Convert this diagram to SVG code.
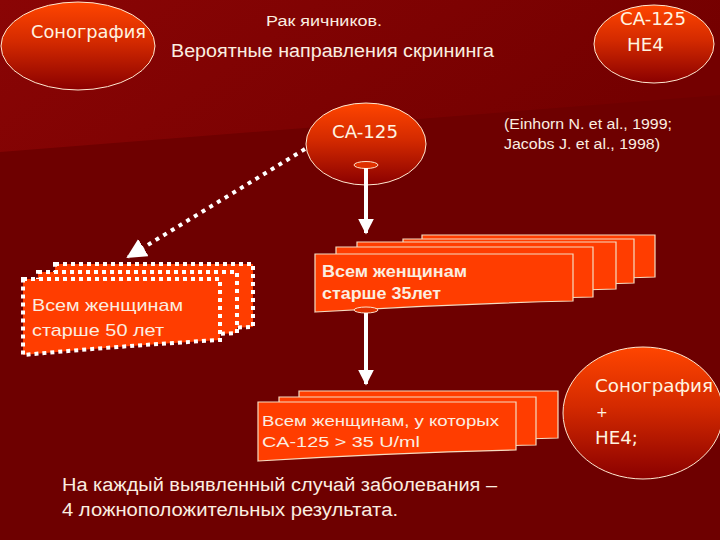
<svg xmlns="http://www.w3.org/2000/svg" width="720" height="540" viewBox="0 0 720 540">
<defs>
<linearGradient id="ell" x1="0" y1="0" x2="0" y2="1">
<stop offset="0" stop-color="#ff4500"/>
<stop offset="0.45" stop-color="#d42a00"/>
<stop offset="1" stop-color="#8a0000"/>
</linearGradient>
<linearGradient id="band" x1="0" y1="0" x2="1" y2="0.3">
<stop offset="0" stop-color="#8a0505"/>
<stop offset="1" stop-color="#740000"/>
</linearGradient>
<marker id="ah" viewBox="0 0 10 10" refX="9" refY="5" markerWidth="4" markerHeight="4" orient="auto" markerUnits="strokeWidth">
<path d="M0,0 L10,5 L0,10 z" fill="#ffffff"/>
</marker>
<marker id="ahd" viewBox="0 0 10 10" refX="9" refY="5" markerWidth="5" markerHeight="5" orient="auto" markerUnits="strokeWidth">
<path d="M0,0 L10,5 L0,10 z" fill="#ffffff"/>
</marker>
</defs>
<style>
.bg{fill:#6e0000}
.ellipse{fill:url(#ell);stroke:#ffe8d0;stroke-width:1}
.doc{fill:#ff3d00;stroke:#f5dcc0;stroke-width:1.2}
.docd{fill:#ff3d00;stroke:#ffffff;stroke-width:4;stroke-dasharray:4 4}
.tail{fill:#e03000;stroke:#ffe0c8;stroke-width:1}
.comic{font-family:"DejaVu Sans","Noto Sans",sans-serif;fill:#fff4e0}
.sans{font-family:"Liberation Sans",Arial,sans-serif;fill:#fbeee0}
.arrow{stroke:#ffffff;stroke-width:4;fill:none}
.dotted{stroke:#ffffff;stroke-width:4;stroke-dasharray:4 5;fill:none}
</style>
<rect class="bg" x="0" y="0" width="720" height="540"/>
<path d="M0,0 H720 V95 L0,152 Z" fill="url(#band)"/>

<g id="title">
<text class="sans" x="266" y="26" font-size="15.5" textLength="116" lengthAdjust="spacingAndGlyphs">Рак яичников.</text>
<text class="sans" x="171" y="57" font-size="18" textLength="323" lengthAdjust="spacingAndGlyphs">Вероятные направления скрининга</text>
</g>

<g id="sonography-top">
<ellipse class="ellipse" cx="78" cy="46" rx="77" ry="44"/>
<text class="comic" x="31" y="38" font-size="17" textLength="115" lengthAdjust="spacingAndGlyphs">Сонография</text>
</g>

<g id="ca125-he4">
<ellipse class="ellipse" cx="654" cy="44" rx="60" ry="39"/>
<text class="comic" x="620" y="25" font-size="18" textLength="66" lengthAdjust="spacingAndGlyphs">CA-125</text>
<text class="comic" x="627" y="51" font-size="18" textLength="37" lengthAdjust="spacingAndGlyphs">HE4</text>
</g>

<g id="ca125">
<ellipse class="ellipse" cx="366" cy="144" rx="60" ry="41"/>
<text class="comic" x="332" y="138" font-size="17" textLength="66" lengthAdjust="spacingAndGlyphs">CA-125</text>
</g>

<g id="citation">
<text class="sans" x="504" y="129" font-size="14" fill="#e8d8d0" textLength="168" lengthAdjust="spacingAndGlyphs">(Einhorn N. et al., 1999;</text>
<text class="sans" x="504" y="149" font-size="14" fill="#e8d8d0" textLength="156" lengthAdjust="spacingAndGlyphs">Jacobs J. et al., 1998)</text>
</g>

<g id="over50">
<path class="docd" d="M55,264 H253 V327 Q150,330 55,343 Z"/>
<path class="docd" d="M38,272 H237 V333 Q135,338 38,350 Z"/>
<path class="docd" d="M23,279 H220 V340 Q120,346 23,355 Z"/>
<text class="sans" x="32" y="311" font-size="17" textLength="151" lengthAdjust="spacingAndGlyphs">Всем женщинам</text>
<text class="sans" x="32" y="336" font-size="17" textLength="132" lengthAdjust="spacingAndGlyphs">старше 50 лет</text>
</g>

<g id="over35">
<path class="doc" d="M422,235 H655 V277 Q540,280 422,288 Z"/>
<path class="doc" d="M403,239 H634 V283 Q520,286 403,294 Z"/>
<path class="doc" d="M357,242 H616 V289 Q490,292 357,300 Z"/>
<path class="doc" d="M336,247 H593 V297 Q465,300 336,306 Z"/>
<path class="doc" d="M315,254 H573 V301 Q445,304 315,312 Z"/>
<text class="sans" x="322" y="277" font-size="16" font-weight="bold" textLength="145" lengthAdjust="spacingAndGlyphs">Всем женщинам</text>
<text class="sans" x="322" y="299" font-size="16" font-weight="bold" textLength="119" lengthAdjust="spacingAndGlyphs">старше 35лет</text>
</g>

<g id="ca125-high">
<path class="doc" d="M299,391 H558 V438 Q430,441 299,449 Z"/>
<path class="doc" d="M279,397 H536 V445 Q410,448 279,456 Z"/>
<path class="doc" d="M258,402 H516 V450 Q390,453 258,461 Z"/>
<text class="sans" x="262" y="426" font-size="15" textLength="237" lengthAdjust="spacingAndGlyphs">Всем женщинам,  у которых</text>
<text class="sans" x="262" y="447" font-size="15" textLength="158" lengthAdjust="spacingAndGlyphs">CA-125 &gt; 35 U/ml</text>
</g>

<g id="sonography-he4">
<ellipse class="ellipse" cx="643" cy="413" rx="80" ry="66"/>
<text class="comic" x="595" y="392" font-size="18.5" textLength="118" lengthAdjust="spacingAndGlyphs">Сонография</text>
<text class="comic" x="596" y="417" font-size="14">+</text>
<text class="comic" x="595" y="444" font-size="18.5" textLength="43" lengthAdjust="spacingAndGlyphs">HE4;</text>
</g>

<g id="note">
<text class="sans" x="62" y="491" font-size="18" textLength="435" lengthAdjust="spacingAndGlyphs">На каждый выявленный случай заболевания –</text>
<text class="sans" x="62" y="516" font-size="18" textLength="336" lengthAdjust="spacingAndGlyphs">4 ложноположительных результата.</text>
</g>

<g id="connectors">
<ellipse class="tail" cx="366" cy="165" rx="12" ry="3.5"/>
<line class="arrow" x1="366" y1="168" x2="366" y2="233" marker-end="url(#ah)"/>
<ellipse class="tail" cx="366" cy="310" rx="12" ry="3"/>
<line class="arrow" x1="366" y1="313" x2="366" y2="384" marker-end="url(#ah)"/>
<line class="dotted" x1="305" y1="149" x2="128" y2="257" marker-end="url(#ahd)"/>
</g>
</svg>
